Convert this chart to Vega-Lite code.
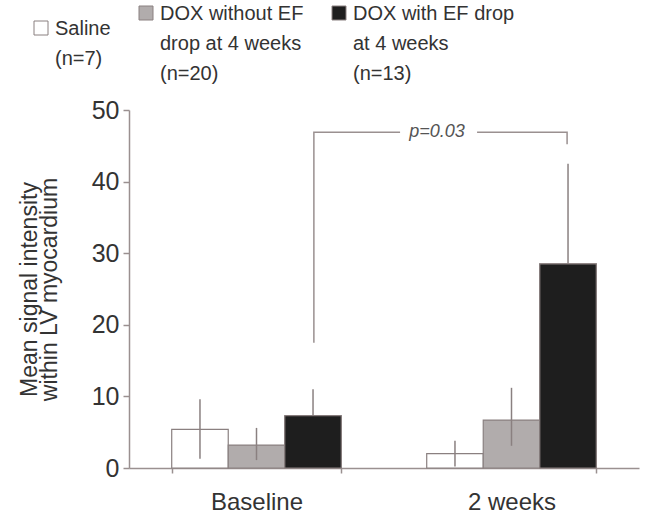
{
  "$schema": "https://vega.github.io/schema/vega-lite/v6.json",
  "width": 510,
  "height": 358,
  "autosize": {"type": "none"},
  "padding": {"left": 129, "top": 110, "right": 12, "bottom": 46},
  "config": {
    "view": {"stroke": null},
    "font": "Liberation Sans",
    "axis": {"grid": false, "domainColor": "#9a9090", "tickColor": "#9a9090", "labelColor": "#333333", "titleColor": "#333333", "labelFont": "Liberation Sans", "titleFont": "Liberation Sans"}
  },
  "layer": [
    {
      "data": {
        "values": [
          {"period": "Baseline", "group": "Saline", "value": 5.4, "low": 1.3, "high": 9.6},
          {"period": "Baseline", "group": "DOX without EF drop", "value": 3.2, "low": 1.1, "high": 5.6},
          {"period": "Baseline", "group": "DOX with EF drop", "value": 7.3, "low": 3.6, "high": 11.0},
          {"period": "2 weeks", "group": "Saline", "value": 2.0, "low": 0.2, "high": 3.8},
          {"period": "2 weeks", "group": "DOX without EF drop", "value": 6.7, "low": 3.1, "high": 11.2},
          {"period": "2 weeks", "group": "DOX with EF drop", "value": 28.5, "low": 14.5, "high": 42.5}
        ]
      },
      "encoding": {
        "x": {
          "field": "period", "type": "nominal",
          "sort": ["Baseline", "2 weeks"],
          "scale": {"paddingInner": 0.335, "paddingOuter": 0.1675},
          "axis": {"title": null, "labelAngle": 0, "labelFontSize": 24, "labelPadding": 17, "tickSize": 5, "tickBand": "extent", "tickWidth": 1.5, "domainWidth": 1.5}
        },
        "xOffset": {
          "field": "group", "type": "nominal",
          "scale": {"domain": ["Saline", "DOX without EF drop", "DOX with EF drop"], "paddingInner": 0, "paddingOuter": 0}
        }
      },
      "layer": [
        {
          "mark": {"type": "bar", "stroke": "#8a8080", "strokeWidth": 1.2},
          "encoding": {
            "y": {
              "field": "value", "type": "quantitative",
              "scale": {"domain": [0, 50], "nice": false},
              "axis": {
                "values": [0, 10, 20, 30, 40, 50],
                "title": ["Mean signal intensity", "within LV myocardium"],
                "titleFontSize": 23, "titleFontWeight": "normal", "titlePadding": 30, "titleLineHeight": 20,
                "labelFontSize": 25, "labelPadding": 4, "tickSize": 6, "tickWidth": 1.5, "domainWidth": 1.5
              }
            },
            "fill": {
              "field": "group", "type": "nominal",
              "scale": {"domain": ["Saline", "DOX without EF drop", "DOX with EF drop"], "range": ["#ffffff", "#b1acac", "#1e1e1e"]},
              "legend": {
                "orient": "none", "legendX": -98, "legendY": -107,
                "direction": "horizontal", "columns": 3, "title": null,
                "padding": 0, "columnPadding": 25,
                "symbolType": "square", "symbolSize": 196,
                "symbolStrokeColor": "#8a8080", "symbolStrokeWidth": 1,
                "labelFontSize": 20, "labelColor": "#333333", "labelOffset": 4, "labelLimit": 300,
                "labelBaseline": "alphabetic",
                "labelExpr": "datum.label == 'Saline' ? ['Saline', '\u00a0(n=7)'] : datum.label == 'DOX without EF drop' ? ['DOX without EF', 'drop at 4 weeks', '(n=20)'] : ['DOX with EF drop', 'at 4 weeks', '(n=13)']",
                "encode": {"labels": {"update": {"dy": {"value": 7}, "lineHeight": {"value": 30}}}}
              }
            }
          }
        },
        {
          "mark": {"type": "rule", "color": "#8a8080", "strokeWidth": 1.5},
          "encoding": {
            "y": {"field": "low", "type": "quantitative"},
            "y2": {"field": "high"}
          }
        },
        {
          "transform": [{"filter": "datum.group == 'DOX with EF drop'"}],
          "mark": {"type": "bar", "stroke": "#8a8080", "strokeWidth": 1.2, "fill": "#1e1e1e"},
          "encoding": {
            "y": {"field": "value", "type": "quantitative"}
          }
        }
      ]
    },
    {
      "layer": [
        {
          "data": {
            "values": [
              {"seg": "a", "idx": 1, "pos": 0.725, "value": 17.5},
              {"seg": "a", "idx": 2, "pos": 0.725, "value": 46.9},
              {"seg": "a", "idx": 3, "pos": 1.063, "value": 46.9},
              {"seg": "b", "idx": 1, "pos": 1.365, "value": 46.9},
              {"seg": "b", "idx": 2, "pos": 1.718, "value": 46.9},
              {"seg": "b", "idx": 3, "pos": 1.718, "value": 45.2}
            ]
          },
          "mark": {"type": "line", "color": "#9a9090", "strokeWidth": 1.5},
          "encoding": {
            "x": {"field": "pos", "type": "quantitative", "scale": {"domain": [0, 2], "nice": false, "zero": false}, "axis": null},
            "y": {"field": "value", "type": "quantitative"},
            "detail": {"field": "seg"},
            "order": {"field": "idx"}
          }
        },
        {
          "data": {"values": [{"pos": 1.208, "value": 46.9, "label": "p=0.03"}]},
          "mark": {"type": "text", "fontStyle": "italic", "fontSize": 18, "color": "#555555", "baseline": "middle", "align": "center"},
          "encoding": {
            "x": {"field": "pos", "type": "quantitative", "scale": {"domain": [0, 2], "nice": false, "zero": false}, "axis": null},
            "y": {"field": "value", "type": "quantitative"},
            "text": {"field": "label"}
          }
        }
      ]
    }
  ],
  "resolve": {"scale": {"x": "independent"}}
}
